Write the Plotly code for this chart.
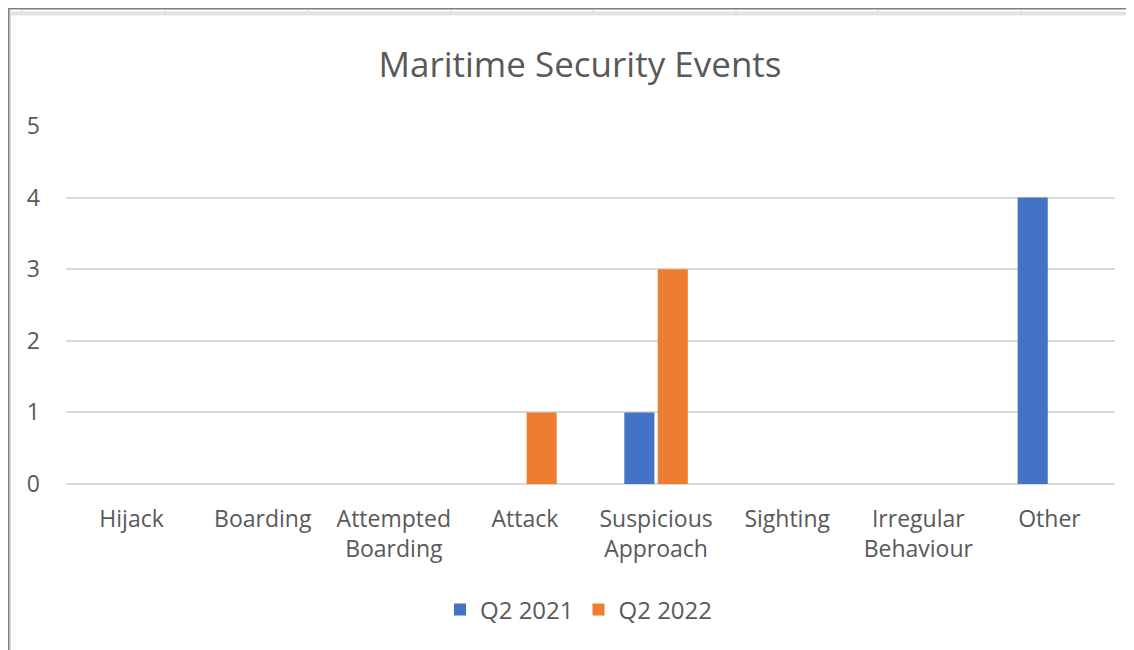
import plotly.graph_objects as go

categories = ["Hijack", "Boarding", "Attempted<br>Boarding", "Attack",
              "Suspicious<br>Approach", "Sighting", "Irregular<br>Behaviour", "Other"]
q2_2021 = [0, 0, 0, 0, 1, 0, 0, 4]
q2_2022 = [0, 0, 0, 1, 3, 0, 0, 0]
y_ticks = [0, 1, 2, 3, 4, 5]

W, H = 1134, 650
OFF = 8  # page body margin offset
# plot area in page coordinates: x 66..1115, y 126..484
L = 66 - OFF
T = 126 - OFF
R = W - (1115 - OFF)
B = H - (484 - OFF)
pw, ph = W - L - R, H - T - B


def px(x):
    """page x -> paper"""
    return (x - OFF - L) / pw


def py(y):
    """page y -> paper"""
    return (H - B - (y - OFF)) / ph


FONT = "Open Sans"
GREY = "#595959"

fig = go.Figure()
fig.add_trace(go.Bar(name="Q2 2021", x=categories, y=q2_2021, marker_color="#4472C4",
                     marker_line_width=0))
fig.add_trace(go.Bar(name="Q2 2022", x=categories, y=q2_2022, marker_color="#ED7D31",
                     marker_line_width=0))

shapes = []
# Excel-like window frame
shapes.append(dict(type="rect", xref="paper", yref="paper", x0=px(10), x1=px(W + 20),
                   y0=py(11.5), y1=py(15.5), fillcolor="#E3E3E3", line_width=0, layer="below"))
for cx in [22, 165, 308, 451, 593, 736, 878, 1021]:
    shapes.append(dict(type="line", xref="paper", yref="paper", x0=px(cx), x1=px(cx),
                       y0=py(9), y1=py(12), line=dict(color="#D0D0D0", width=1)))
shapes.append(dict(type="line", xref="paper", yref="paper", x0=px(8), x1=px(W + 20),
                   y0=py(8.5), y1=py(8.5), line=dict(color="#7F7F7F", width=2)))
shapes.append(dict(type="line", xref="paper", yref="paper", x0=px(8.5), x1=px(8.5),
                   y0=py(7.5), y1=py(H + 20), line=dict(color="#7F7F7F", width=2)))
shapes.append(dict(type="line", xref="paper", yref="paper", x0=px(10.5), x1=px(10.5),
                   y0=py(9.5), y1=py(H + 20), line=dict(color="#D8D8D8", width=1)))

fig.update_layout(
    width=W, height=H,
    margin=dict(l=L, r=R, t=T, b=B, autoexpand=False),
    paper_bgcolor="white", plot_bgcolor="white",
    font=dict(family=FONT, color=GREY, size=23),
    title=dict(text="Maritime Security Events", xref="paper", x=px(580), xanchor="center",
               yref="container", y=1 - (65 - OFF) / H, yanchor="middle",
               font=dict(family=FONT, size=35, color=GREY)),
    barmode="group", bargap=0.49, bargroupgap=0.1,
    showlegend=True,
    legend=dict(orientation="h", x=px(579), xanchor="center", y=py(610), yanchor="middle",
                font=dict(family=FONT, size=24, color=GREY), itemwidth=30,
                traceorder="normal"),
    shapes=shapes,
)
fig.update_xaxes(showgrid=False, showline=False, zeroline=False, ticks="",
                 ticklabelstandoff=19, tickfont=dict(size=23, color=GREY))
fig.update_yaxes(range=[0, 5], tickvals=y_ticks, showgrid=True, gridcolor="#D9D9D9",
                 gridwidth=2, zeroline=True, zerolinecolor="#D9D9D9", zerolinewidth=2,
                 showline=False, ticks="", ticklabelstandoff=25,
                 tickfont=dict(size=23, color=GREY))

fig.write_html("out.html")
